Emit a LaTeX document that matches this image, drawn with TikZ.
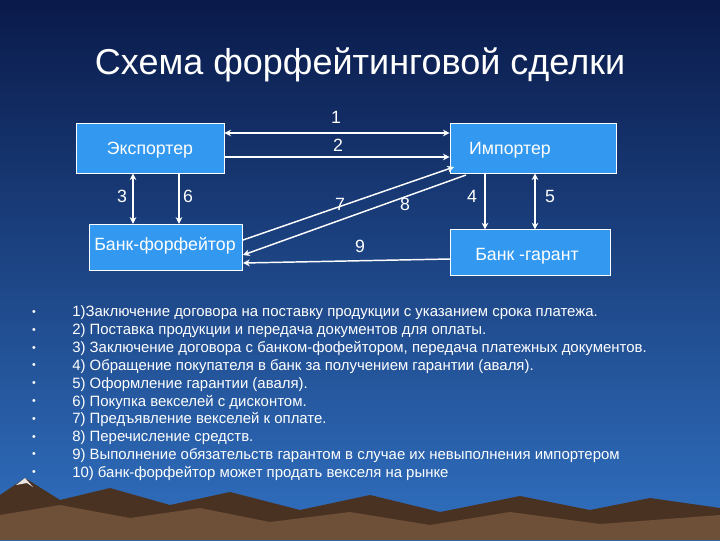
\documentclass[tikz,border=0pt]{standalone}
\usepackage{fontspec}
\setmainfont{Liberation Sans}
\usetikzlibrary{arrows.meta}
\definecolor{boxblue}{HTML}{3399F0}
\definecolor{topblue}{HTML}{0A1A4A}
\definecolor{botblue}{HTML}{3070C0}
\definecolor{mtn}{HTML}{6E5038}
\definecolor{mtnd}{HTML}{4A3222}
\tikzset{
  box/.style={draw=white, fill=boxblue, line width=0.6pt, inner sep=0pt},
  con/.style={draw=white, line width=1.1pt, -{Stealth[length=5pt,width=5pt]}},
  dcon/.style={con, {Stealth[length=5pt,width=5pt]}-{Stealth[length=5pt,width=5pt]}},
  lab/.style={text=white, font=\fontsize{13.3}{15}\selectfont},
  item/.style={text=white, font=\fontsize{11.2}{13}\selectfont, anchor=west, inner sep=0pt},
  bul/.style={text=white, font=\fontsize{8}{9}\selectfont, inner sep=0pt}
}
\begin{document}
\begin{tikzpicture}[x=0.75pt,y=-0.75pt]
\shade[top color=topblue, bottom color=botblue] (0,0) rectangle (720,540);
\useasboundingbox (0,0) rectangle (720,540);
% mountains
\fill[mtnd] (0,540) -- (0,495) -- (25,478) -- (60,500) -- (110,488) -- (170,505) -- (230,492) -- (300,510) -- (370,495) -- (440,512) -- (520,496) -- (590,510) -- (650,498) -- (720,508) -- (720,540) -- cycle;
\fill[mtn] (0,540) -- (0,515) -- (60,505) -- (130,518) -- (200,508) -- (270,522) -- (350,512) -- (430,525) -- (510,512) -- (600,524) -- (720,515) -- (720,540) -- cycle;
\fill[white!85!mtn] (25,478) -- (16,485) -- (27,483) -- (33,487) -- cycle;
\node[text=white, font=\fontsize{27}{32}\selectfont] (title) at (360,65) {Схема форфейтинговой сделки};
\node[box, minimum width=111pt, minimum height=37.5pt] (exp) at (150,148) {};
\node[lab] (expt) at (150,150) {Экспортер};
\node[box, minimum width=124.5pt, minimum height=37.5pt] (imp) at (533,148) {};
\node[lab] (impt) at (510,150) {Импортер};
\node[box, minimum width=115pt, minimum height=35pt] (bf) at (166,247.5) {};
\node[lab] (bft) at (165,246) {Банк-форфейтор};
\node[box, minimum width=120pt, minimum height=34pt] (bg) at (530,252.5) {};
\node[lab] (bgt) at (527,256) {Банк -гарант};
\draw[dcon] (exp.east |- 0,133) -- (imp.west |- 0,133);
\draw[con] (exp.east |- 0,157) -- (imp.west |- 0,157);
\draw[dcon] (exp.south -| 133,0) -- (bf.north -| 133,0);
\draw[con] (exp.south -| 179,0) -- (bf.north -| 179,0);
\draw[con] (imp.south -| 485,0) -- (bg.north -| 485,0);
\draw[dcon] (imp.south -| 535,0) -- (bg.north -| 535,0);
\coordinate (a7) at (243,240); \coordinate (b7) at (454,167);
\coordinate (a8) at (466,175); \coordinate (b8) at (243,255);
\coordinate (a9) at (450,259); \coordinate (b9) at (243,263);
\draw[con] (a7) -- (b7);
\draw[con] (a8) -- (b8);
\draw[con] (a9) -- (b9);
\node[lab] (l1) at (336,117) {1};
\node[lab] (l2) at (338,145) {2};
\node[lab] (l3) at (122,196) {3};
\node[lab] (l6) at (188,196) {6};
\node[lab] (l7) at (340,204) {7};
\node[lab] (l8) at (405,204) {8};
\node[lab] (l4) at (472,196) {4};
\node[lab] (l5) at (550,196) {5};
\node[lab] (l9) at (360,246) {9};
\foreach \t [count=\i] in {
1)Заключение договора на поставку продукции с указанием срока платежа.,
2) Поставка продукции и передача документов для оплаты.,
3) Заключение договора с банком-фофейтором{,} передача платежных документов.,
4) Обращение покупателя в банк за получением гарантии (аваля).,
5) Оформление гарантии (аваля).,
6) Покупка векселей с дисконтом.,
7) Предъявление векселей к оплате.,
8) Перечисление средств.,
9) Выполнение обязательств гарантом в случае их невыполнения импортером,
10) банк-форфейтор может продать векселя на рынке}{
  \node[item] (it\i) at (72,{313+(\i-1)*17.8}) {\t};
  \node[bul] (bu\i) at (34,{313+(\i-1)*17.8}) {•};
}
\end{tikzpicture}
\end{document}
